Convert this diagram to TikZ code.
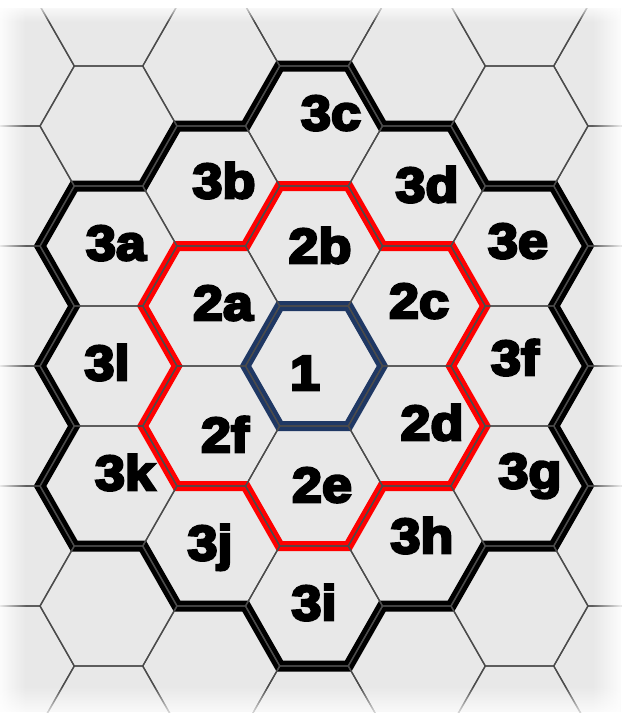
\documentclass[tikz,border=0pt]{standalone}
\usepackage{fontspec}
\newfontfamily\lblfont[FakeStretch=1.1,FakeBold=5.5]{Liberation Sans Bold}
\usetikzlibrary{fadings}
\tikzfading[name=fadeL, left color=transparent!0, right color=transparent!100]
\tikzfading[name=fadeR, left color=transparent!100, right color=transparent!0]
\tikzfading[name=fadeT, top color=transparent!0, bottom color=transparent!100]
\tikzfading[name=fadeB, top color=transparent!100, bottom color=transparent!0]
\definecolor{bg}{RGB}{232,232,232}
\definecolor{gridc}{RGB}{75,75,75}
\definecolor{navy}{RGB}{31,56,100}
\tikzset{
  gridline/.style={draw=gridc, line width=1.3pt},
  band/.style={line width=#1, line join=miter},
  lbl/.style={font=\lblfont\fontsize{49}{49}\selectfont, anchor=base, inner sep=0pt}
}
\begin{document}
\begin{tikzpicture}[x=1pt,y=-1pt]
\useasboundingbox (0,0) rectangle (621,720);
\fill[white] (0,0) rectangle (621,720);
\begin{scope}
\clip (0,8) rectangle (621,712);
\fill[bg] (0,8) rectangle (621,712);
\begin{scope}[shift={(314pt,-366pt)}, x=34.25pt, y=-60pt]
  % outer ring (19 hexes)
  \draw[black, band=11pt] (-1,-5) -- (1,-5) -- (2,-4) -- (4,-4) -- (5,-3) -- (7,-3) -- (8,-2) -- (7,-1) -- (8,0) -- (7,1) -- (8,2) -- (7,3) -- (5,3) -- (4,4) -- (2,4) -- (1,5) -- (-1,5) -- (-2,4) -- (-4,4) -- (-5,3) -- (-7,3) -- (-8,2) -- (-7,1) -- (-8,0) -- (-7,-1) -- (-8,-2) -- (-7,-3) -- (-5,-3) -- (-4,-4) -- (-2,-4) -- cycle;
  % middle ring (7 hexes)
  \draw[red, band=10pt] (-1,-3) -- (1,-3) -- (2,-2) -- (4,-2) -- (5,-1) -- (4,0) -- (5,1) -- (4,2) -- (2,2) -- (1,3) -- (-1,3) -- (-2,2) -- (-4,2) -- (-5,1) -- (-4,0) -- (-5,-1) -- (-4,-2) -- (-2,-2) -- cycle;
  % centre hex
  \draw[navy, band=10pt] (2,0) -- (1,-1) -- (-1,-1) -- (-2,0) -- (-1,1) -- (1,1) -- cycle;
  % grid
  \foreach \c in {-4,...,4} {
    \foreach \k in {-4,...,4} {
      \pgfmathsetmacro\X{3*\c}
      \pgfmathsetmacro\Y{2*\k+mod(abs(\c),2)}
      \draw[gridline] (\X+2,\Y) -- (\X+1,\Y-1) -- (\X-1,\Y-1) -- (\X-2,\Y) -- (\X-1,\Y+1) -- (\X+1,\Y+1) -- cycle;
    }
  }
\end{scope}
% labels
\node[lbl] (h1)  at (305,390) {1};
\node[lbl] (h2a) at (223,320) {2a};
\node[lbl] (h2b) at (320,263) {2b};
\node[lbl] (h2c) at (419,318) {2c};
\node[lbl] (h2d) at (432,440) {2d};
\node[lbl] (h2e) at (322,502) {2e};
\node[lbl] (h2f) at (225,452) {2f};
\node[lbl] (h3a) at (116,260) {3a};
\node[lbl] (h3b) at (224,198) {3b};
\node[lbl] (h3c) at (331,130) {3c};
\node[lbl] (h3d) at (427,202) {3d};
\node[lbl] (h3e) at (518,258) {3e};
\node[lbl] (h3f) at (515,375) {3f};
\node[lbl] (h3g) at (530,488) {3g};
\node[lbl] (h3h) at (422,553) {3h};
\node[lbl] (h3i) at (314,620) {3i};
\node[lbl] (h3j) at (210,560) {3j};
\node[lbl] (h3k) at (125,490) {3k};
\node[lbl] (h3l) at (107,380) {3l};
% soft edges
\fill[white, path fading=fadeL, fit fading=true] (-4,0) rectangle (26,720);
\fill[white, path fading=fadeR, fit fading=true] (592,0) rectangle (625,720);
\fill[white, path fading=fadeT, fit fading=true] (0,2) rectangle (621,22);
\fill[white, path fading=fadeB, fit fading=true] (0,686) rectangle (621,720);
\end{scope}
\end{tikzpicture}
\end{document}
